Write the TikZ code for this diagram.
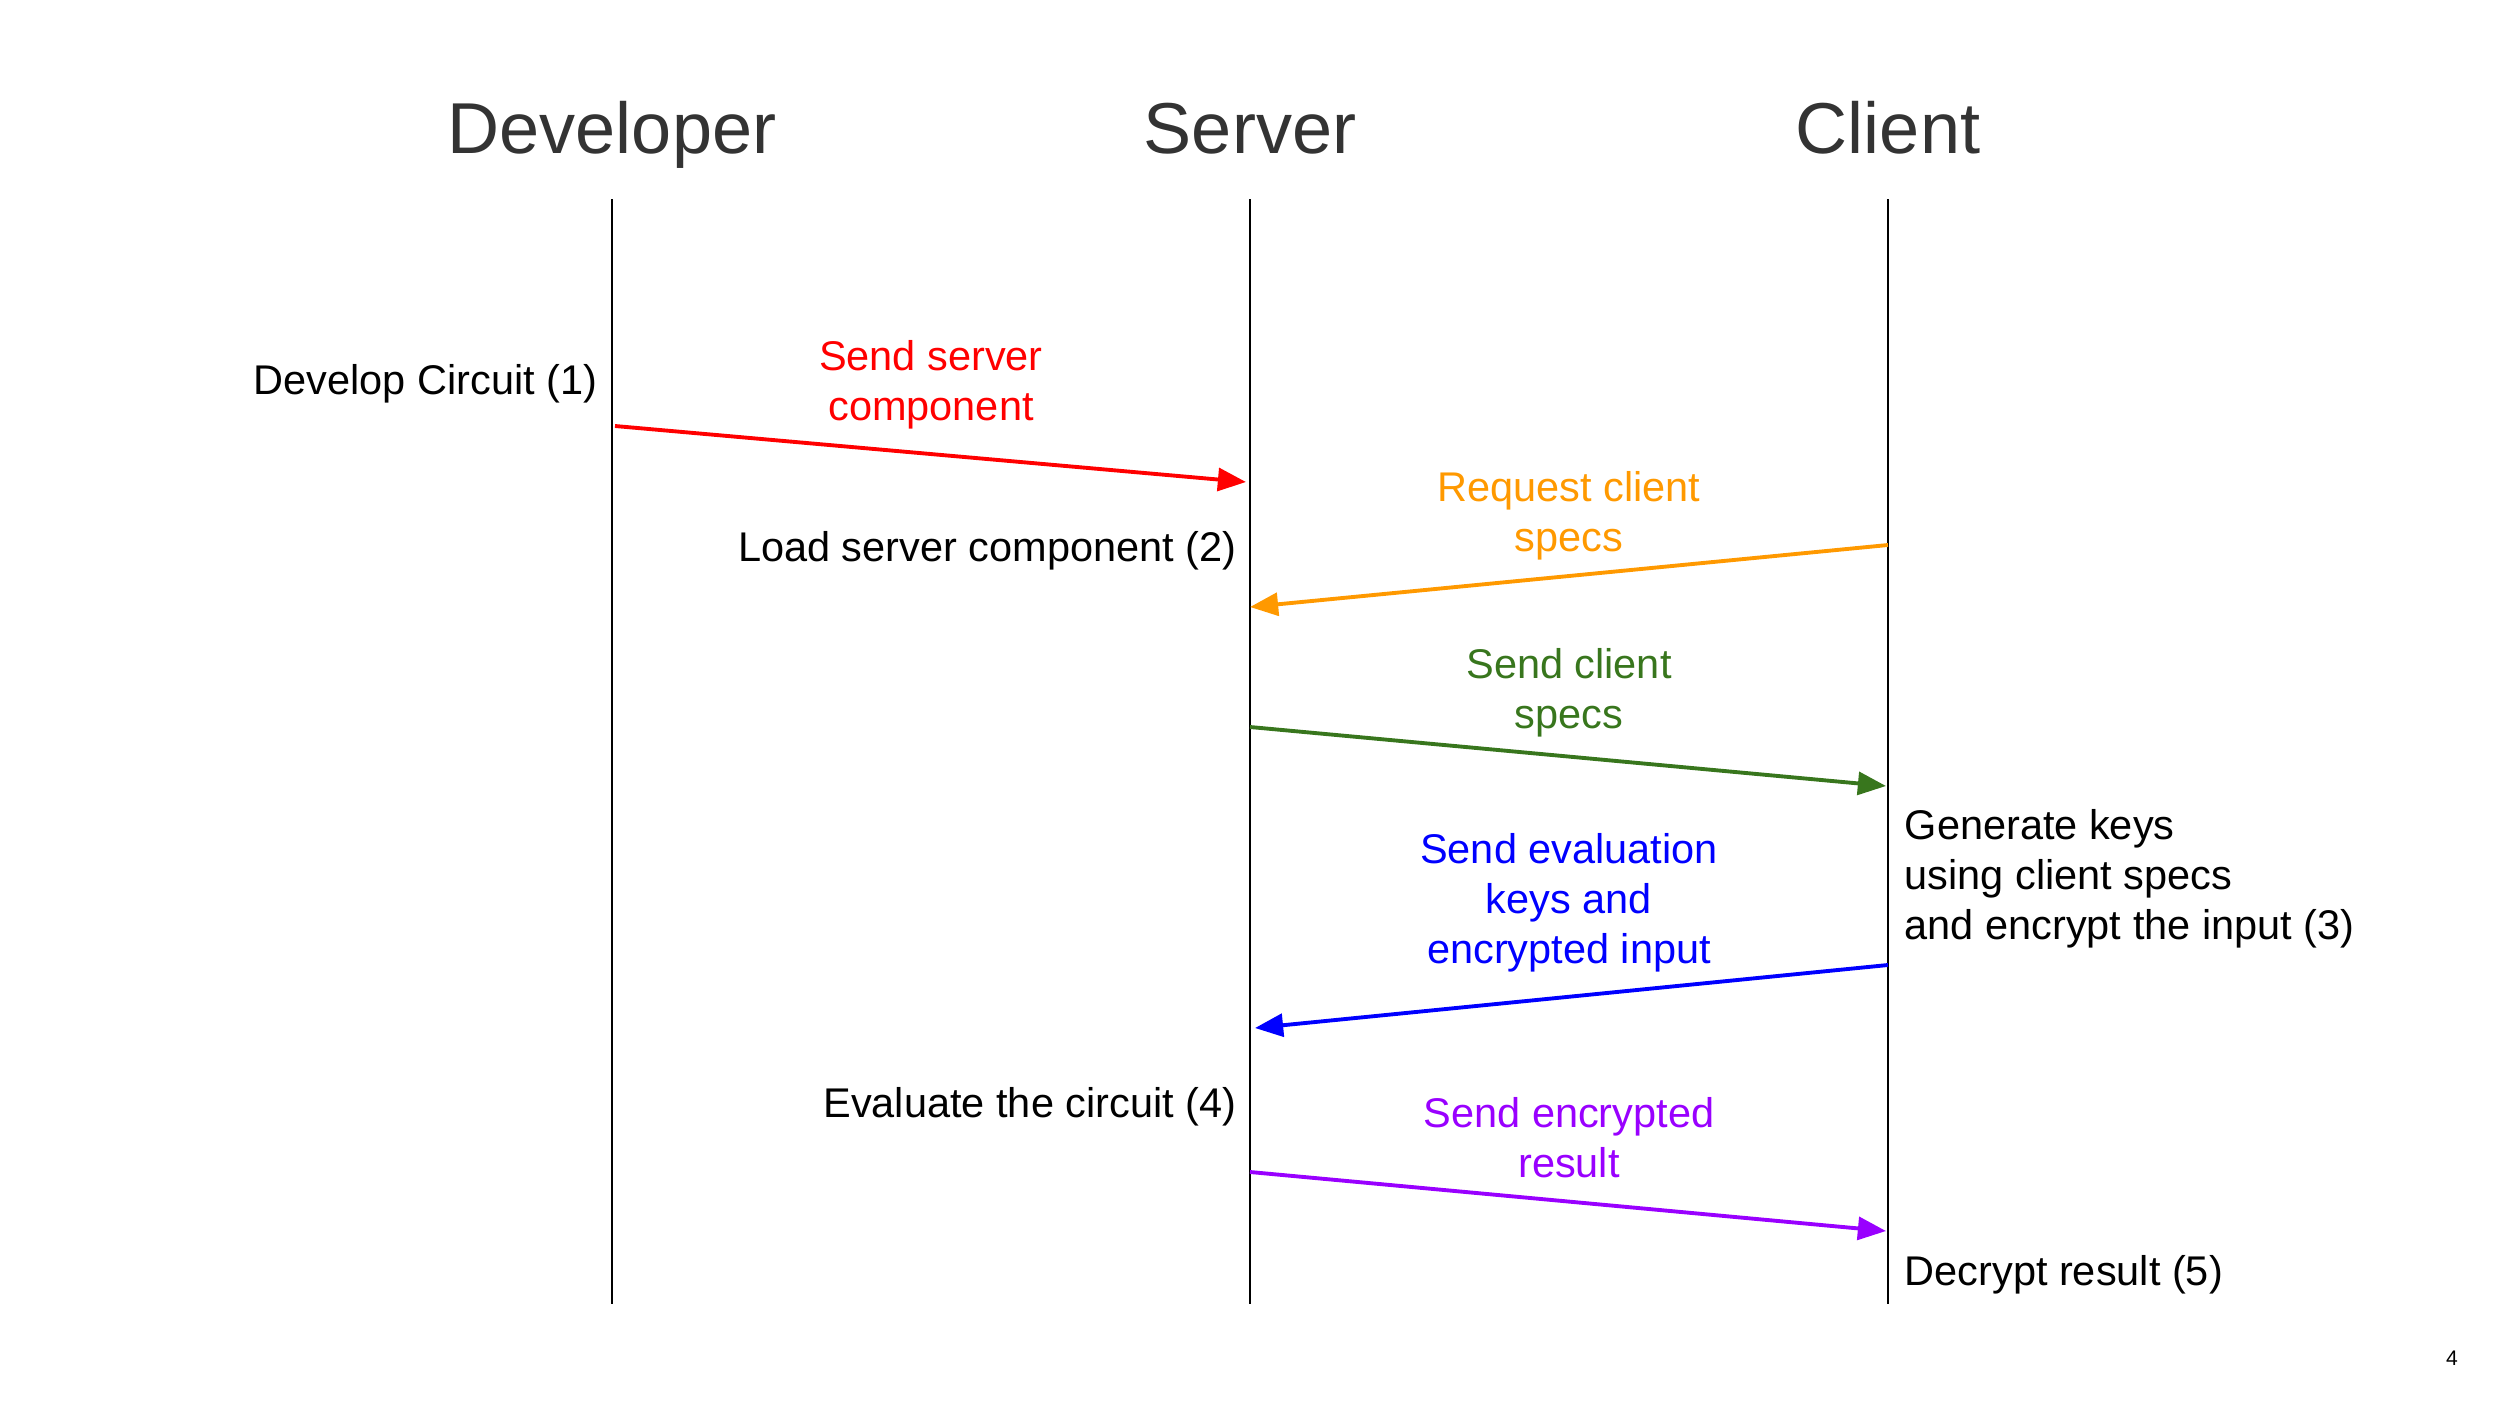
\documentclass[tikz,border=0pt]{standalone}
\usepackage{fontspec}
\setmainfont{Liberation Sans}
\usepackage{xcolor}
\usepackage{tikz}
\usetikzlibrary{arrows.meta}
\definecolor{titlegray}{RGB}{51, 51, 51}
\definecolor{msgred}{RGB}{255, 0, 0}
\definecolor{msgorange}{RGB}{255, 153, 0}
\definecolor{msggreen}{RGB}{56, 118, 29}
\definecolor{msgblue}{RGB}{0, 0, 255}
\definecolor{msgpurple}{RGB}{153, 0, 255}
\tikzset{
  lifeline/.style={black, line width=0.7pt},
  msg/.style={line width=1.1pt, -{Triangle[length=8pt, width=6.5pt]}},
  actor/.style={inner sep=0pt, text=titlegray, font=\fontsize{20.5}{24}\selectfont},
  steplabel/.style={inner sep=0pt, font=\fontsize{11.8}{14.2}\selectfont},
  msglabel/.style={inner sep=0pt, align=center, font=\fontsize{11.8}{14.2}\selectfont}
}

\begin{document}
\begin{tikzpicture}[x=0.01cm, y=-0.01cm]
	\def\xd{612}
	\def\xs{1250}
	\def\xc{1888}
	\def\ytop{199}
	\def\ybot{1304}

	\useasboundingbox (0,0) rectangle (2500,1406);

	% Actors
	\node[actor, anchor=base] (dev) at (\xd, 153) {Developer};
	\node[actor, anchor=base] (srv) at (\xs, 153) {Server};
	\node[actor, anchor=base] (cli) at (\xc, 153) {Client};

	% Lifelines
	\coordinate (devtop) at (\xd, \ytop);
	\coordinate (devbot) at (\xd, \ybot);
	\coordinate (srvtop) at (\xs, \ytop);
	\coordinate (srvbot) at (\xs, \ybot);
	\coordinate (clitop) at (\xc, \ytop);
	\coordinate (clibot) at (\xc, \ybot);
	\draw[lifeline] (devtop) -- (devbot);
	\draw[lifeline] (srvtop) -- (srvbot);
	\draw[lifeline] (clitop) -- (clibot);

	% Message end points
	\coordinate (dev1) at (\xd+3, 426);
	\coordinate (srv1) at (\xs-4, 482);
	\coordinate (cli2) at (\xc, 545);
	\coordinate (srv2) at (\xs, 607);
	\coordinate (srv3) at (\xs, 727);
	\coordinate (cli3) at (\xc-2, 786);
	\coordinate (cli4) at (\xc, 965);
	\coordinate (srv4) at (\xs+5, 1028);
	\coordinate (srv5) at (\xs, 1172);
	\coordinate (cli5) at (\xc-2, 1231);

	% Messages
	\draw[msg, msgred] (dev1) -- (srv1);
	\draw[msg, msgorange] (cli2) -- (srv2);
	\draw[msg, msggreen] (srv3) -- (cli3);
	\draw[msg, msgblue] (cli4) -- (srv4);
	\draw[msg, msgpurple] (srv5) -- (cli5);

	\node[msglabel, text=msgred] (lbl1) at (931, 385) {Send server\\component};
	\node[msglabel, text=msgorange] (lbl2) at (1569, 516) {Request client\\specs};
	\node[msglabel, text=msggreen] (lbl3) at (1569, 693) {Send client\\specs};
	\node[msglabel, text=msgblue] (lbl4) at (1569, 903) {Send evaluation\\keys and\\encrypted input};
	\node[msglabel, text=msgpurple] (lbl5) at (1569, 1138) {Send encrypted\\result};

	% Steps
	\node[steplabel, anchor=east] (step1) at (598, 384) {Develop Circuit (1)};
	\node[steplabel, anchor=east] (step2) at (1237, 551) {Load server component (2)};
	\node[steplabel, anchor=west, align=left] (step3) at (1904, 879) {Generate keys\\using client specs\\and encrypt the input (3)};
	\node[steplabel, anchor=east] (step4) at (1237, 1107) {Evaluate the circuit (4)};
	\node[steplabel, anchor=west] (step5) at (1904, 1275) {Decrypt result (5)};

	\node[inner sep=0pt, font=\fontsize{6}{7}\selectfont] (page) at (2452, 1358) {4};
\end{tikzpicture}
\end{document}
